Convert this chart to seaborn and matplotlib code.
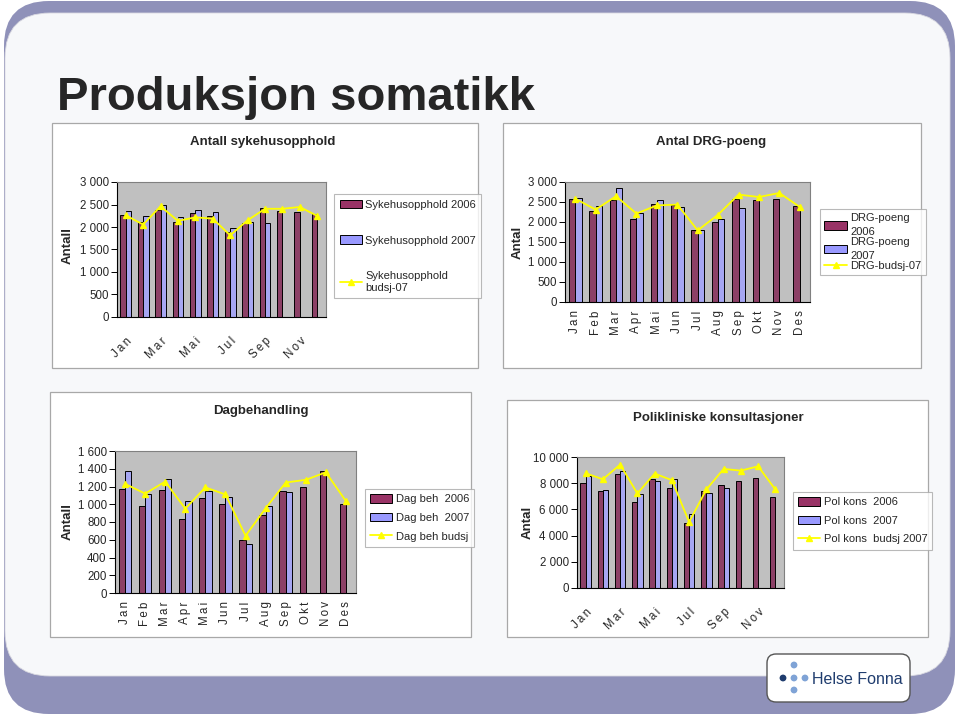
import numpy as np
import pandas as pd
import matplotlib
matplotlib.use("Agg")
import matplotlib.pyplot as plt
from matplotlib.patches import FancyBboxPatch, Rectangle, Circle, Patch
from matplotlib.lines import Line2D
import seaborn as sns

months = ['Jan', 'Feb', 'Mar', 'Apr', 'Mai', 'Jun', 'Jul', 'Aug', 'Sep', 'Okt', 'Nov', 'Des']

# Antall sykehusopphold
opphold_2006 = [2270, 2110, 2385, 2110, 2310, 2250, 1890, 2090, 2420, 2355, 2335, 2295]
opphold_2007 = [2355, 2245, 2480, 2220, 2375, 2335, 1985, 2110, 2090]
opphold_budsj = [2260, 2055, 2460, 2135, 2215, 2185, 1815, 2150, 2405, 2405, 2445, 2245]

# Antal DRG-poeng
drg_2006 = [2585, 2265, 2545, 2075, 2460, 2415, 1810, 2000, 2585, 2545, 2585, 2390]
drg_2007 = [2610, 2390, 2860, 2225, 2560, 2375, 1810, 2075, 2350]
drg_budsj = [2585, 2310, 2645, 2210, 2415, 2435, 1790, 2185, 2685, 2625, 2725, 2375]

# Dagbehandling
dag_2006 = [1170, 980, 1160, 830, 1065, 1000, 595, 875, 1145, 1200, 1380, 1000]
dag_2007 = [1380, 1110, 1290, 1035, 1145, 1080, 555, 980, 1135]
dag_budsj = [1230, 1120, 1255, 950, 1190, 1110, 645, 955, 1245, 1275, 1360, 1035]

# Polikliniske konsultasjoner
pol_2006 = [8050, 7400, 8690, 6530, 8300, 7620, 4990, 7400, 7900, 8180, 8380, 6940]
pol_2007 = [8560, 7490, 8910, 7140, 8200, 8300, 5670, 7215, 7670]
pol_budsj = [8760, 8300, 9420, 7215, 8735, 8230, 5040, 7520, 9090, 8960, 9290, 7520]

C2006 = '#993366'
C2007 = '#9999ff'
CBUD = '#ffff00'
PURPLE = '#8f91b9'
LIGHT = '#f7f8fa'

sns.set_style("white")
plt.rcParams['font.family'] = ['Liberation Sans', 'DejaVu Sans']

W, H = 960, 716
fig = plt.figure(figsize=(9.6, 7.16), dpi=100)
fig.patch.set_facecolor('white')

bg = fig.add_axes([0, 0, 1, 1], zorder=-10)
bg.set_xlim(0, W)
bg.set_ylim(H, 0)
bg.axis('off')

# slide background
bg.add_patch(FancyBboxPatch((4, 1), 951, 713, boxstyle="round,pad=0,rounding_size=45",
                            fc=PURPLE, ec='none'))
bg.add_patch(FancyBboxPatch((5, 13), 945, 663, boxstyle="round,pad=0,rounding_size=45",
                            fc=LIGHT, ec='#d8d8e0', lw=0.6))

bg.text(57, 110, 'Produksjon somatikk', fontsize=34, fontweight='bold', va='baseline')

# logo
bg.add_patch(FancyBboxPatch((767, 654), 143, 48, boxstyle="round,pad=0,rounding_size=9",
                            fc='white', ec='#555555', lw=1))
bg.add_patch(Circle((783, 678), 3.4, fc='#1f3c6e', ec='none'))
for cx, cy in [(794, 665), (794, 678), (794, 690), (805, 678)]:
    bg.add_patch(Circle((cx, cy), 3.4, fc='#7fa3d6', ec='none'))
bg.text(812, 679, 'Helse Fonna', fontsize=11.5, color='#1f3c6e', va='center')


def px_axes(x0, y0, x1, y1):
    return fig.add_axes([x0 / W, 1 - y1 / H, (x1 - x0) / W, (y1 - y0) / H])


def fmt(v):
    return f"{int(v):,}".replace(",", " ")


def spaced(s):
    return '\u2009'.join(s)


def draw_chart(panel, area, title, title_xy, ylabel, ylabel_xy, v06, v07, bud,
               ymax, ystep, labels, rot, leg_xy, leg_labels, leg_opts):
    x0, y0, x1, y1 = panel
    bg.add_patch(Rectangle((x0, y0), x1 - x0, y1 - y0, fc='white', ec='#a8a8a8', lw=0.9))
    bg.text(title_xy[0], title_xy[1], title, fontsize=9.5, fontweight='bold',
            ha='center', va='center')
    bg.text(ylabel_xy[0], ylabel_xy[1], ylabel, fontsize=9.5, fontweight='bold',
            ha='center', va='center', rotation=90)

    ax = px_axes(*area)
    pad = [np.nan] * (12 - len(v07))
    df = pd.DataFrame({'month': months * 2,
                       'value': list(v06) + list(v07) + pad,
                       'series': ['2006'] * 12 + ['2007'] * 12})
    sns.barplot(data=df, x='month', y='value', hue='series', order=months,
                hue_order=['2006', '2007'], palette=[C2006, C2007], width=0.62,
                edgecolor='black', linewidth=0.7, legend=False, ax=ax)
    sns.pointplot(x=months, y=bud, order=months, color=CBUD, markers='^',
                  markersize=5, linewidth=1.3, errorbar=None, ax=ax)

    ax.set_facecolor('#c0c0c0')
    ax.set_xlim(-0.5, 11.5)
    ax.set_ylim(0, ymax)
    ax.set_xlabel('')
    ax.set_ylabel('')
    yt = np.arange(0, ymax + 1, ystep)
    ax.set_yticks(yt)
    ax.set_yticklabels([fmt(v) for v in yt], fontsize=8.3)
    ax.set_xticks(range(12))
    if rot == 45:
        ax.set_xticklabels([spaced(l) for l in labels], fontsize=8.3, rotation=45,
                           ha='right', rotation_mode='anchor')
        ax.tick_params(axis='x', which='major', length=0, pad=13)
    else:
        ax.set_xticklabels([spaced(l) for l in labels], fontsize=8.3, rotation=90)
        ax.tick_params(axis='x', which='major', length=0, pad=6)
    ax.set_xticks(np.arange(-0.5, 12, 1), minor=True)
    ax.tick_params(axis='x', which='minor', length=4, color='black', width=0.7)
    ax.tick_params(axis='y', length=4, color='black', width=0.7, pad=2, left=True)
    for s in ax.spines.values():
        s.set_color('#808080')
        s.set_linewidth(0.8)
        s.set_visible(True)
    ax.spines['left'].set_color('black')
    ax.spines['bottom'].set_color('black')

    handles = [Patch(fc=C2006, ec='black', lw=0.7), Patch(fc=C2007, ec='black', lw=0.7),
               Line2D([0], [0], color=CBUD, marker='^', markersize=5, lw=1.3)]
    leg = ax.legend(handles, leg_labels, loc='upper left',
                    bbox_to_anchor=(leg_xy[0] / W, 1 - leg_xy[1] / H),
                    bbox_transform=fig.transFigure, borderaxespad=0, fontsize=8,
                    frameon=True, fancybox=False, edgecolor='#a8a8a8',
                    handlelength=2.0, handleheight=0.85, handletextpad=0.3,
                    **leg_opts)
    leg.get_frame().set_linewidth(0.8)
    return leg


every_other = [m if i % 2 == 0 else '' for i, m in enumerate(months)]

draw_chart((52, 123, 478, 368), (117, 182, 326, 317), 'Antall sykehusopphold', (263, 142),
           'Antall', (68, 245), opphold_2006, opphold_2007, opphold_budsj, 3000, 500,
           every_other, 45, (334, 194),
           ['Sykehusopphold 2006', 'Sykehusopphold 2007', 'Sykehusopphold\nbudsj-07'],
           dict(labelspacing=2.3, borderpad=0.5))

leg2 = draw_chart((503, 123, 921, 368), (565, 182, 810, 302), 'Antal DRG-poeng', (711, 142),
                  'Antal', (518, 242), drg_2006, drg_2007, drg_budsj, 3000, 500,
                  months, 90, (820, 209),
                  ['DRG-poeng\n2006', 'DRG-poeng\n2007', 'DRG-budsj-07'],
                  dict(labelspacing=0.0, borderpad=0.4))
for t in leg2.get_texts():
    t.set_linespacing(1.45)

draw_chart((50, 392, 471, 637), (115, 451, 356, 593), 'Dagbehandling', (261, 411),
           'Antall', (68, 522), dag_2006, dag_2007, dag_budsj, 1600, 200,
           months, 90, (365, 489),
           ['Dag beh  2006', 'Dag beh  2007', 'Dag beh budsj'],
           dict(labelspacing=0.75, borderpad=0.45))

draw_chart((507, 400, 928, 637), (577, 457, 784, 588), 'Polikliniske konsultasjoner', (718, 418),
           'Antal', (528, 522), pol_2006, pol_2007, pol_budsj, 10000, 2000,
           every_other, 45, (793, 492),
           ['Pol kons  2006', 'Pol kons  2007', 'Pol kons  budsj 2007'],
           dict(labelspacing=0.75, borderpad=0.45))

fig.savefig('out.png', dpi=100)
